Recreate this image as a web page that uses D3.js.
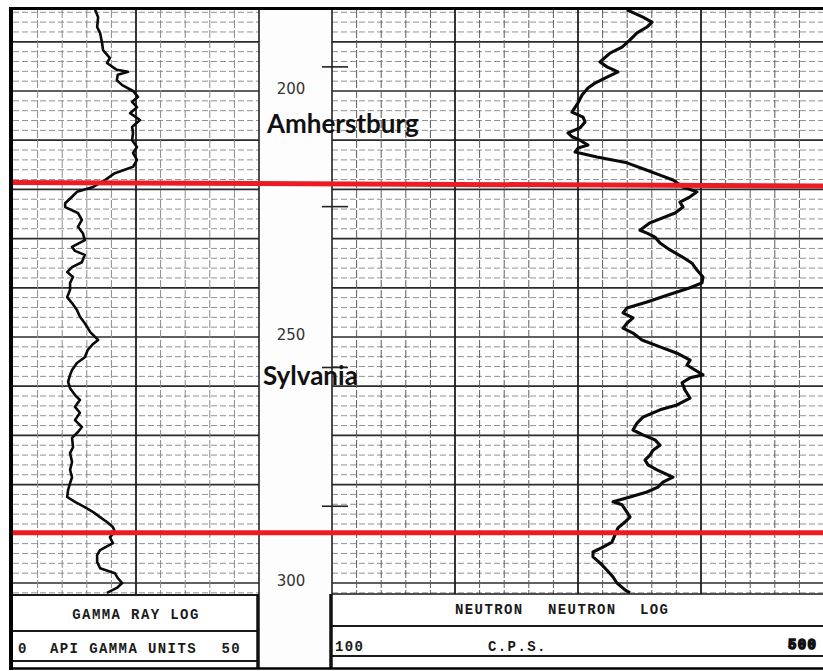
<!DOCTYPE html>
<html>
<head>
<meta charset="utf-8">
<script src="https://cdn.jsdelivr.net/npm/d3@7"></script>
<style>
  body { margin: 0; background: #fff; }
  svg { display: block; }
</style>
</head>
<body>
<svg id="log"></svg>
<script>
// depth in feet, gamma in API units
const gammaDepth = [183.5, 185.0, 187.0, 188.2, 190.2, 191.7, 193.3, 194.3, 195.7, 196.1, 196.7, 197.8, 198.8,
  200.0, 201.2, 202.2, 203.3, 204.5, 205.9, 207.3, 208.5, 210.0, 211.4, 212.6, 214.0, 215.4, 216.7, 218.1,
  219.5, 220.5, 221.5, 222.8, 223.6, 224.8, 226.2, 227.6, 228.9, 230.3, 231.7, 232.5, 233.3, 234.8, 235.8,
  236.8, 237.8, 239.0, 240.4, 241.9, 243.1, 244.5, 245.9, 247.2, 249.0, 250.6, 251.6, 252.6, 254.1, 255.3,
  256.7, 257.7, 259.1, 260.4, 261.8, 262.8, 264.2, 265.4, 266.9, 268.3, 269.3, 270.5, 272.4, 273.6, 275.4,
  277.0, 278.5, 279.7, 281.1, 282.5, 283.5, 284.6, 285.6, 286.6, 287.6, 288.6, 289.6, 290.7, 291.9, 293.3,
  294.3, 295.7, 297.0, 298.0, 299.0, 300.0, 301.0, 302.0];
const gammaApi = [16.7, 17.3, 17.1, 17.7, 18.1, 18.3, 19.7, 19.1, 21.1, 23.4, 21.3, 21.1, 22.2,
  24.4, 25.4, 24.2, 25.2, 23.8, 25.8, 24.2, 24.4, 24.2, 25.2, 24.4, 25.2, 24.4, 20.7, 18.7,
  16.3, 13.0, 12.0, 10.6, 10.6, 13.2, 14.0, 13.2, 14.2, 14.6, 12.0, 12.6, 14.6, 14.0, 12.0,
  11.0, 12.2, 11.6, 11.6, 11.0, 12.0, 13.0, 13.6, 14.6, 15.7, 17.3, 16.1, 15.2, 14.6, 13.0,
  12.0, 11.6, 11.2, 11.6, 12.6, 13.6, 12.6, 13.6, 12.6, 14.0, 13.2, 12.0, 12.2, 11.6, 12.0,
  11.6, 12.0, 11.6, 11.2, 11.0, 12.6, 14.6, 16.3, 17.7, 19.1, 20.3, 20.7, 19.7, 20.3, 17.7,
  17.1, 17.1, 17.7, 20.7, 21.3, 22.2, 21.1, 19.1];

// depth in feet, neutron in counts per second
const neutronDepth = [183.5, 185.0, 186.0, 187.0, 188.2, 189.6, 191.1, 192.3, 194.1, 195.1, 196.1, 197.2, 198.4,
  199.4, 200.8, 202.4, 204.3, 205.3, 206.3, 207.5, 208.5, 209.3, 210.0, 211.0, 211.6, 212.4, 213.4, 214.6,
  216.1, 217.1, 218.1, 219.5, 220.5, 221.5, 222.6, 223.6, 224.8, 226.8, 228.3, 228.9, 229.7, 230.9, 232.3,
  233.7, 235.0, 236.4, 237.8, 239.0, 240.0, 241.5, 242.9, 244.1, 245.1, 246.1, 247.2, 248.2, 249.2, 250.6,
  252.0, 253.3, 254.7, 255.7, 256.7, 257.7, 258.3, 259.3, 260.8, 262.4, 263.8, 264.8, 266.3, 267.5, 268.9,
  269.9, 270.9, 272.0, 273.0, 274.0, 275.0, 276.0, 277.0, 278.5, 279.5, 280.5, 281.5, 282.5, 283.5, 284.1,
  285.6, 286.6, 287.6, 288.8, 290.2, 291.7, 292.7, 293.7, 294.7, 295.9, 297.4, 298.8, 300.0, 301.4, 302.0];
const neutronCps = [339.8, 352.8, 360.2, 356.1, 348.0, 342.3, 335.8, 326.0, 317.9, 323.6, 332.5, 323.6, 313.8,
  308.1, 303.3, 300.0, 295.1, 304.1, 305.7, 301.6, 291.9, 295.1, 301.6, 308.1, 300.0, 297.6, 315.4, 339.8,
  356.1, 366.7, 377.2, 385.4, 396.7, 391.1, 382.9, 385.4, 378.9, 358.5, 350.4, 356.1, 362.6, 366.7, 374.8,
  384.6, 392.7, 396.7, 401.6, 400.8, 391.1, 372.4, 356.1, 339.8, 336.6, 344.7, 339.8, 336.6, 344.7, 352.0,
  366.7, 380.5, 391.1, 388.6, 395.1, 401.6, 391.1, 384.6, 387.0, 391.1, 380.5, 366.7, 352.8, 348.0, 344.7,
  352.8, 362.6, 366.7, 361.0, 358.5, 354.5, 356.9, 364.2, 377.2, 369.1, 365.0, 356.1, 342.3, 328.5, 335.8,
  339.8, 342.3, 338.2, 332.5, 330.1, 327.6, 320.3, 312.2, 312.2, 317.9, 323.6, 328.5, 331.7, 338.2, 342.3];

const depthLabels = [200, 250, 300];
const footageMarks = [195.1, 223.5, 256.2, 284.4];

const formationNames = ['Amherstburg', 'Sylvania'];
const formationLabelDepths = [208.5, 259.8];
const boundaryDepthLeft = [218.6, 289.8];
const boundaryDepthRight = [219.3, 289.8];

const W = 823, H = 671;
const plotTop = 10, plotBottom = 594;

const svg = d3.select('#log').attr('width', W).attr('height', H);

const y = d3.scaleLinear().domain([200, 300]).range([91, 583]);
const xGamma = d3.scaleLinear().domain([0, 50]).range([13, 259]);
const xNeutron = d3.scaleLinear().domain([100, 500]).range([332, 824]);

svg.append('rect').attr('width', W).attr('height', H).attr('fill', '#fff');

svg.append('clipPath').attr('id', 'plot')
  .append('rect').attr('x', 0).attr('y', plotTop).attr('width', W).attr('height', plotBottom - plotTop);

const grid = svg.append('g').attr('clip-path', 'url(#plot)');
const depthGrid = d3.range(184, 304, 2);

function drawTrack(x, step, heavy, minorV) {
  let [x0, x1] = x.range();
  let [v0, v1] = x.domain();
  // horizontal grid, dashed minor, solid every 10 ft
  grid.append('g').selectAll('line')
    .data(depthGrid)
    .join('line')
    .attr('x1', x0).attr('x2', Math.min(x1, W))
    .attr('y1', d => y(d)).attr('y2', d => y(d))
    .attr('stroke', d => d % 10 == 0 ? '#2b2b2b' : '#858585')
    .attr('stroke-width', d => d % 10 == 0 ? 1.7 : 0.9)
    .attr('stroke-dasharray', d => d % 10 == 0 ? null : '6,3');
  // vertical grid
  grid.append('g').selectAll('line')
    .data(d3.range(v0 + step, v1, step))
    .join('line')
    .attr('x1', d => x(d)).attr('x2', d => x(d))
    .attr('y1', plotTop).attr('y2', plotBottom)
    .attr('stroke', d => heavy.includes(d) ? '#1e1e1e' : minorV)
    .attr('stroke-width', d => heavy.includes(d) ? 1.8 : 1)
    .attr('stroke-dasharray', d => heavy.includes(d) ? null : '8,2');
}

drawTrack(xGamma, 5, [25], '#8a8a8a');
drawTrack(xNeutron, 20, [200, 300, 400], '#5c5c5c');

// depth column
svg.append('rect')
  .attr('x', 260).attr('y', plotTop).attr('width', 71).attr('height', H - plotTop)
  .attr('fill', '#fdfdfd');

svg.append('line').attr('x1', 259).attr('x2', 259).attr('y1', plotTop).attr('y2', plotBottom)
  .attr('stroke', '#222').attr('stroke-width', 1.6);
svg.append('line').attr('x1', 332).attr('x2', 332).attr('y1', plotTop).attr('y2', plotBottom)
  .attr('stroke', '#222').attr('stroke-width', 1.6);

svg.append('g').selectAll('line')
  .data(footageMarks)
  .join('line')
  .attr('x1', 322).attr('x2', 348)
  .attr('y1', d => y(d)).attr('y2', d => y(d))
  .attr('stroke', '#222').attr('stroke-width', 1.6);

svg.append('g').selectAll('text')
  .data(depthLabels)
  .join('text')
  .attr('x', 291).attr('y', d => y(d) - 2)
  .attr('text-anchor', 'middle')
  .attr('dominant-baseline', 'central')
  .style('font-family', 'DejaVu Sans, sans-serif')
  .style('font-size', '15px')
  .attr('fill', '#333')
  .text(d => d);

// curves
const curves = svg.append('g').attr('clip-path', 'url(#plot)');

curves.append('path')
  .attr('d', d3.line().x(i => xGamma(gammaApi[i])).y(i => y(gammaDepth[i]))(d3.range(gammaDepth.length)))
  .attr('fill', 'none').attr('stroke', '#0a0a0a')
  .attr('stroke-width', 2.6).attr('stroke-linejoin', 'round');

curves.append('path')
  .attr('d', d3.line().x(i => xNeutron(neutronCps[i])).y(i => y(neutronDepth[i]))(d3.range(neutronDepth.length)))
  .attr('fill', 'none').attr('stroke', '#0a0a0a')
  .attr('stroke-width', 3.1).attr('stroke-linejoin', 'round');

// formation boundaries
svg.append('g').selectAll('line')
  .data(boundaryDepthLeft)
  .join('line')
  .attr('x1', 12).attr('x2', W)
  .attr('y1', d => y(d)).attr('y2', (d, i) => y(boundaryDepthRight[i]))
  .attr('stroke', '#ec1c24').attr('stroke-width', 5);

svg.append('g').selectAll('text')
  .data(formationNames)
  .join('text')
  .attr('x', (d, i) => i == 0 ? 267 : 263)
  .attr('y', (d, i) => y(formationLabelDepths[i]))
  .style('font-family', 'Lato, sans-serif')
  .style('font-weight', 'bold')
  .style('font-size', '26px')
  .attr('fill', '#111')
  .text(d => d);

// header boxes
const hdr = svg.append('g');
hdr.append('rect').attr('x', 13).attr('y', 595).attr('width', 246).attr('height', 73).attr('fill', '#fff');
hdr.append('rect').attr('x', 331).attr('y', 594).attr('width', W - 331).attr('height', 74).attr('fill', '#fff');
hdr.append('rect').attr('x', 259).attr('y', 594).attr('width', 72).attr('height', 74).attr('fill', '#fdfdfd');

const hLines = [[13, 259, 595, 1.8], [13, 259, 631, 2.2], [13, 259, 661, 2], [332, W, 594, 1.6], [332, W, 626, 2], [332, W, 656, 2]];
hdr.selectAll('line.h')
  .data(hLines)
  .join('line')
  .attr('x1', d => d[0]).attr('x2', d => d[1])
  .attr('y1', d => d[2]).attr('y2', d => d[2])
  .attr('stroke', '#1a1a1a').attr('stroke-width', d => d[3]);

hdr.append('line').attr('x1', 258).attr('x2', 258).attr('y1', 594).attr('y2', 668)
  .attr('stroke', '#111').attr('stroke-width', 3.5);
hdr.append('line').attr('x1', 331).attr('x2', 331).attr('y1', 594).attr('y2', 668)
  .attr('stroke', '#111').attr('stroke-width', 3.5);

const mono = (sel) => sel
  .style('font-family', 'Liberation Mono, Courier New, monospace')
  .style('font-size', '14px')
  .style('font-weight', 'bold')
  .style('letter-spacing', '1.4px')
  .attr('fill', '#1a1a1a');

const headerWords = [
  ['GAMMA RAY LOG', 136, 615, 'middle'],
  ['0', 18, 649, 'start'],
  ['API GAMMA UNITS', 50, 649, 'start'],
  ['50', 241, 649, 'end'],
  ['NEUTRON', 455, 610, 'start'],
  ['NEUTRON', 548, 610, 'start'],
  ['LOG', 640, 610, 'start'],
  ['100', 335, 647, 'start'],
  ['C.P.S.', 488, 647, 'start']
];
mono(hdr.selectAll('text.w')
  .data(headerWords)
  .join('text')
  .attr('x', d => d[1])
  .attr('y', d => d[2])
  .attr('text-anchor', d => d[3])
  .attr('dominant-baseline', 'central')
  .text(d => d[0]));

mono(hdr.append('text'))
  .attr('x', 788).attr('y', 645)
  .attr('dominant-baseline', 'central')
  .attr('stroke', '#111').attr('stroke-width', 1.5)
  .text('500');

// outer frame
svg.append('line').attr('x1', 9).attr('x2', W).attr('y1', 8.5).attr('y2', 8.5)
  .attr('stroke', '#000').attr('stroke-width', 3);
svg.append('line').attr('x1', 11).attr('x2', 11).attr('y1', 7).attr('y2', 670)
  .attr('stroke', '#000').attr('stroke-width', 4);
svg.append('line').attr('x1', 9).attr('x2', W).attr('y1', 668.5).attr('y2', 668.5)
  .attr('stroke', '#000').attr('stroke-width', 2.5);
</script>
</body>
</html>
